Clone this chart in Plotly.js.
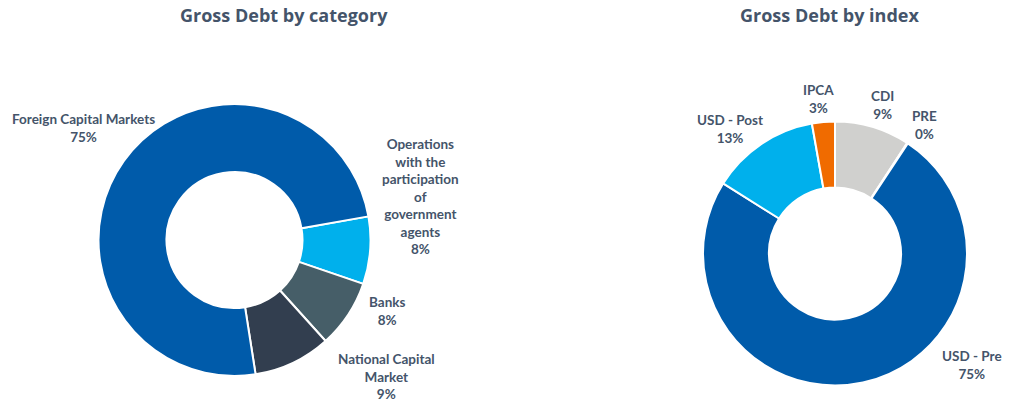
<!DOCTYPE html>
<html>
<head>
<meta charset="utf-8">
<script src="https://cdn.plot.ly/plotly-3.0.1.min.js"></script>
<style>html,body{margin:0;padding:0;background:#fff;}#chart{width:1010px;height:404px;}</style>
</head>
<body>
<div id="chart"></div>
<script>
// Left chart: Gross Debt by category
const catLabels = ["Operations with the participation of government agents", "Banks", "National Capital Market", "Foreign Capital Markets"];
const catText = ["Operations<br>with the<br>participation<br>of<br>government<br>agents", "Banks", "National Capital<br>Market", "Foreign Capital Markets"];
const catValues = [8.0, 8.1, 9.2, 74.7];
const catColors = ["#00B0EC", "#465E68", "#323E4F", "#005BAA"];

// Right chart: Gross Debt by index
const idxLabels = ["CDI", "PRE", "USD - Pre", "USD - Post", "IPCA"];
const idxValues = [9.2, 0.1, 74.6, 13.3, 2.8];
const idxColors = ["#D0D0CE", "#A5A5A5", "#005BAA", "#00B0EC", "#F06B00"];

const titles = ["Gross Debt by category", "Gross Debt by index"];

// label placement (paper px)
const catLabelPos = [[420, 196], [387, 311], [386, 376], [83, 128]];
const idxLabelPos = [[882, 105], [924, 125], [972, 365], [730, 129], [818, 99]];

const W = 1010, H = 404;
const textColor = "#44546A";
const labelFont = {family: "Lato, sans-serif", size: 13.5, color: textColor, weight: 700};

function pct(vals) {
  const t = vals.reduce((a, b) => a + b, 0);
  return vals.map(v => Math.round(v / t * 100) + "%");
}

const data = [
  {
    type: "pie", hole: 0.5, sort: false, direction: "clockwise", rotation: 80,
    labels: catLabels, values: catValues, textinfo: "none", hoverinfo: "label+percent",
    marker: {colors: catColors, line: {color: "#ffffff", width: 2}},
    domain: {x: [(234.5 - 136) / W, (234.5 + 136) / W], y: [(H - 240 - 136) / H, (H - 240 + 136) / H]},
    showlegend: false
  },
  {
    type: "pie", hole: 0.5, sort: false, direction: "clockwise", rotation: 0,
    labels: idxLabels, values: idxValues, textinfo: "none", hoverinfo: "label+percent",
    marker: {colors: idxColors, line: {color: "#ffffff", width: 2}},
    domain: {x: [(835 - 132) / W, (835 + 132) / W], y: [(H - 253.5 - 132) / H, (H - 253.5 + 132) / H]},
    showlegend: false
  }
];

const annotations = [];
const cp = pct(catValues);
catText.forEach((t, i) => annotations.push({
  text: t + "<br>" + cp[i], x: catLabelPos[i][0] / W, y: 1 - catLabelPos[i][1] / H,
  xref: "paper", yref: "paper", showarrow: false, xanchor: "center", yanchor: "middle",
  align: "center", font: labelFont
}));
const ip = pct(idxValues);
idxLabels.forEach((t, i) => annotations.push({
  text: t + "<br>" + ip[i], x: idxLabelPos[i][0] / W, y: 1 - idxLabelPos[i][1] / H,
  xref: "paper", yref: "paper", showarrow: false, xanchor: "center", yanchor: "middle",
  align: "center", font: labelFont
}));
const titleFont = {family: "Open Sans, sans-serif", size: 18, color: textColor, weight: 700};
annotations.push({text: titles[0], x: 284 / W, y: 1 - 15 / H, xref: "paper", yref: "paper", showarrow: false, xanchor: "center", yanchor: "middle", font: titleFont});
annotations.push({text: titles[1], x: 829 / W, y: 1 - 15 / H, xref: "paper", yref: "paper", showarrow: false, xanchor: "center", yanchor: "middle", font: titleFont});

const layout = {
  width: W, height: H, margin: {l: 0, r: 0, t: 0, b: 0},
  paper_bgcolor: "#ffffff", plot_bgcolor: "#ffffff",
  annotations: annotations, showlegend: false
};
Plotly.newPlot("chart", data, layout, {displayModeBar: false, staticPlot: true});
</script>
</body>
</html>
